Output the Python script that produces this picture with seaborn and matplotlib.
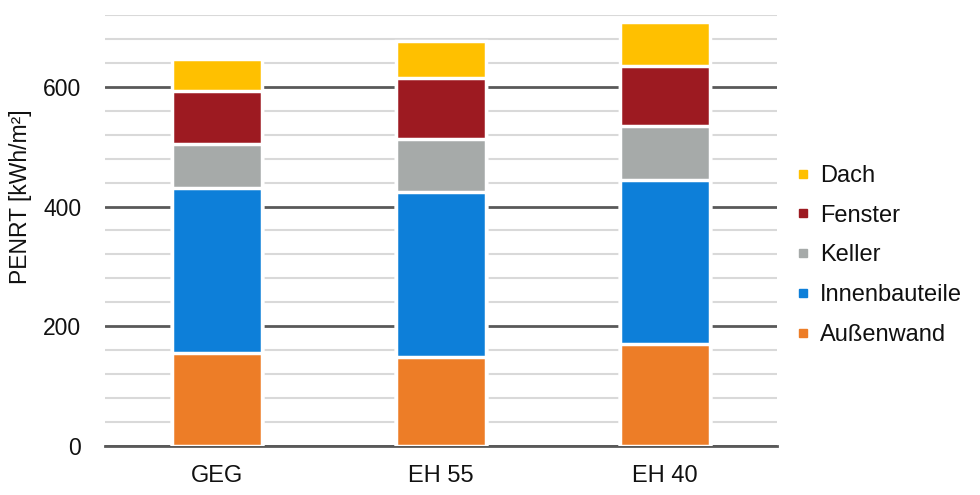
import matplotlib

matplotlib.use("Agg")
import matplotlib.pyplot as plt
import numpy as np
import pandas as pd
import seaborn as sns
from matplotlib.lines import Line2D
from matplotlib.ticker import MultipleLocator

# data (kWh/m²)
variants = ["GEG", "EH 55", "EH 40"]
components = ["Außenwand", "Innenbauteile", "Keller", "Fenster", "Dach"]
aussenwand = [156, 149, 170]
innenbauteile = [275, 275, 275]
keller = [74, 89, 89]
fenster = [88, 101, 101]
dach = [54, 62, 73]

colors = {
    "Außenwand": "#ED7D27",
    "Innenbauteile": "#0D7FD9",
    "Keller": "#A6AAA9",
    "Fenster": "#9D1A21",
    "Dach": "#FFC000",
}

values = np.array([aussenwand, innenbauteile, keller, fenster, dach])
cumulative = values.cumsum(axis=0)

sns.set_theme(style="white")
plt.rcParams["font.family"] = ["Liberation Sans", "DejaVu Sans"]

fig = plt.figure(figsize=(9.8, 4.95), dpi=100)
ax = fig.add_axes([0.107, 0.099, 0.686, 0.8707])

# stacked bars: draw running totals from the top segment down
for i in range(len(components) - 1, -1, -1):
    df = pd.DataFrame({"variant": variants, "value": cumulative[i]})
    sns.barplot(
        data=df,
        x="variant",
        y="value",
        color=colors[components[i]],
        saturation=1,
        width=0.4,
        edgecolor="white",
        linewidth=2.5,
        ax=ax,
        zorder=3,
    )

ax.set_xlim(-0.5, 2.5)
ax.set_ylim(0, 720)
ax.yaxis.set_major_locator(MultipleLocator(200))
ax.yaxis.set_minor_locator(MultipleLocator(40))
ax.set_yticks([0, 200, 400, 600])
ax.grid(axis="y", which="minor", color="#D9D9D9", linewidth=1.5, zorder=0)
ax.grid(axis="y", which="major", color="#595959", linewidth=2, zorder=1)
ax.set_axisbelow(True)

for side in ["left", "right", "top"]:
    ax.spines[side].set_visible(False)
ax.spines["bottom"].set_color("#595959")
ax.spines["bottom"].set_linewidth(2)

ax.set_xticks([0, 1, 2])
ax.set_xticklabels(variants)
ax.set_xticks([-0.5, 0.5, 1.5, 2.5], minor=True)
ax.tick_params(axis="x", which="major", length=0, pad=14, labelsize=17, labelcolor="#111111")
ax.tick_params(axis="x", which="minor", direction="in", length=7, width=2, color="#595959")
ax.tick_params(axis="y", which="both", length=0, pad=17, labelsize=16.5, labelcolor="#111111")

ax.set_xlabel("")
ax.set_ylabel("PENRT [kWh/m²]", fontsize=16.5, color="#111111")
ax.yaxis.set_label_coords(-0.108, 0.578)

handles = [
    Line2D([], [], marker="s", linestyle="none", markersize=6,
           markerfacecolor=colors[c], markeredgecolor=colors[c])
    for c in reversed(components)
]
fig.legend(
    handles,
    list(reversed(components)),
    loc="center left",
    bbox_to_anchor=(0.790, 0.484),
    frameon=False,
    fontsize=17,
    labelspacing=0.75,
    handlelength=0.6,
    handletextpad=0.45,
    labelcolor="#111111",
)

fig.savefig("out.png", dpi=100)
